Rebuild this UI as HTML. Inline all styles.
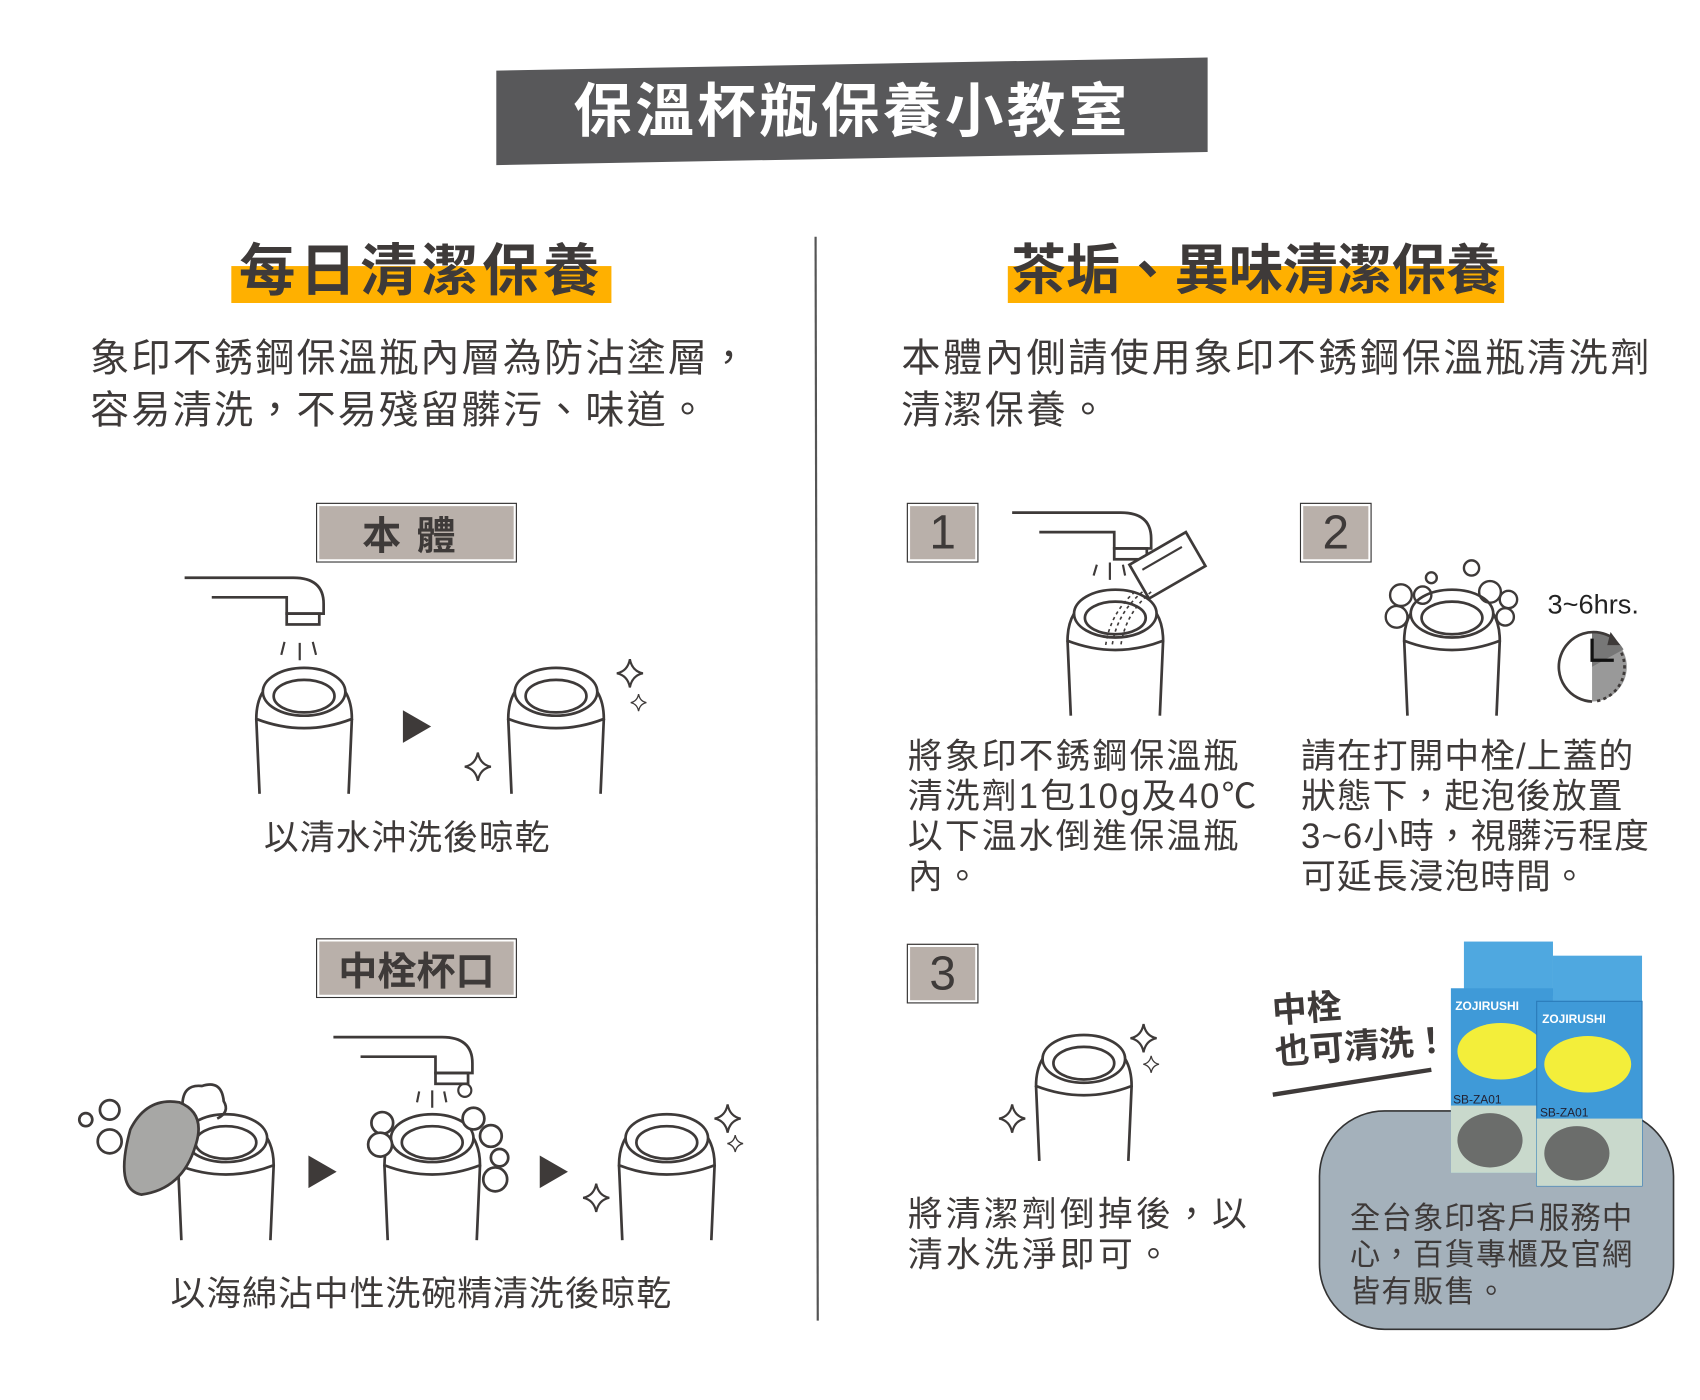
<!DOCTYPE html>
<html><head><meta charset="utf-8">
<style>
html,body{margin:0;padding:0;background:#fff;width:1700px;height:1400px;overflow:hidden}
#w{position:absolute;left:0;top:0;width:1560px;height:1285px;transform:scale(1.086);transform-origin:0 0;font-family:"Liberation Sans","Noto Sans CJK TC",sans-serif;color:#3e3a39}
.t{position:absolute;white-space:nowrap}
.lbl{position:absolute;background:#b9b0aa;border:1.5px solid #333;box-shadow:inset 0 0 0 2px #fff;display:flex;align-items:center;justify-content:center;color:#3e3a39}
.hl{position:absolute;background:#ffb000;height:34px}
.h{position:absolute;font-weight:bold;font-size:52px;color:#3e3a39;white-space:nowrap;line-height:1}
svg{position:absolute;left:0;top:0}
</style></head><body><div id="w">
<svg width="1560" height="1285" viewBox="0 0 1560 1285">
<defs>
<g id="cup" fill="none" stroke="#3e3a39" stroke-width="2.5">
<ellipse cx="0" cy="22" rx="38" ry="22"/>
<ellipse cx="0" cy="26" rx="28" ry="15"/>
<path d="M-38 22 Q-44 32 -44 47 Q0 64 44 47 Q44 32 38 22"/>
<path d="M-44 47 L-41 116 M44 47 L41 116"/>
</g>
<g id="fau" fill="none" stroke="#3e3a39" stroke-width="2.5">
<path d="M0 0 H100 Q128 0 128 24 V33 H94 V18 H25"/>
<rect x="94" y="33" width="30" height="10"/>
</g>
<g id="spk" fill="none" stroke="#3e3a39" stroke-width="2"><path d="M0 -13 Q2 -2 12 0 Q2 2 0 13 Q-2 2 -12 0 Q-2 -2 0 -13Z"/></g>
</defs>
<polygon points="457,65 1112,53 1112,140 457,152" fill="#58585a"/>
<line x1="751" y1="218" x2="753" y2="1216" stroke="#555" stroke-width="2"/>
<use href="#fau" x="170" y="532"/>
<path d="M262 591 L259 603 M276 592 V608 M288 591 L291 603" stroke="#3e3a39" stroke-width="2"/>
<use href="#cup" x="280" y="615"/>
<polygon points="371,654 371,684 397,669" fill="#3e3a39"/>
<use href="#cup" x="512" y="615"/>
<use href="#spk" x="580" y="620"/><use href="#spk" transform="translate(588,647) scale(0.6)"/><use href="#spk" x="440" y="706"/>
<use href="#cup" x="208" y="1026"/>
<g fill="none" stroke="#3e3a39" stroke-width="2.5">
<circle cx="79" cy="1031" r="6"/><circle cx="101" cy="1022" r="9"/><circle cx="101" cy="1051" r="11"/>
<path d="M168 1018 q0 -20 18 -18 q18 -6 20 14 q6 10 -6 16"/>
</g>
<path d="M120 1040 q15 -30 45 -25 q25 10 15 40 q-12 40 -50 45 q-25 -5 -10 -60z" fill="#a7a7a5" stroke="#3e3a39" stroke-width="2.5"/>
<polygon points="284,1064 284,1094 310,1079" fill="#3e3a39"/>
<use href="#fau" x="307" y="955"/>
<path d="M386 1005 L384 1015 M398 1004 V1020 M409 1005 L411 1015" stroke="#3e3a39" stroke-width="2"/>
<circle cx="428" cy="1004" r="6" fill="none" stroke="#3e3a39" stroke-width="2"/>
<use href="#cup" x="398" y="1026"/>
<g fill="#fff" stroke="#3e3a39" stroke-width="2.5">
<circle cx="352" cy="1034" r="10"/><circle cx="350" cy="1054" r="11"/><circle cx="436" cy="1030" r="10"/><circle cx="452" cy="1046" r="10"/><circle cx="456" cy="1086" r="11"/><circle cx="460" cy="1066" r="8"/>
</g>
<polygon points="497,1064 497,1094 523,1079" fill="#3e3a39"/>
<use href="#cup" x="614" y="1026"/>
<use href="#spk" x="670" y="1030"/><use href="#spk" transform="translate(677,1053) scale(0.6)"/><use href="#spk" x="549" y="1103"/>
<use href="#fau" x="932" y="472"/>
<path d="M1010 520 L1007 530 M1022 518 V534 M1034 520 L1036 530" stroke="#3e3a39" stroke-width="2"/>
<g transform="translate(1040,520) rotate(-30)"><rect x="0" y="0" width="60" height="36" fill="#fff" stroke="#3e3a39" stroke-width="2.5"/><line x1="8" y1="10" x2="50" y2="10" stroke="#3e3a39" stroke-width="2"/></g>
<use href="#cup" x="1027" y="543"/>
<path d="M1060 545 Q1036 565 1032 595 M1052 545 Q1028 565 1024 595 M1045 545 Q1022 565 1018 595" fill="none" stroke="#3e3a39" stroke-width="1.5" stroke-dasharray="3 3"/>
<use href="#cup" x="1337" y="543"/>
<g fill="none" stroke="#3e3a39" stroke-width="2.2">
<circle cx="1290" cy="548" r="10"/><circle cx="1286" cy="568" r="10"/><circle cx="1310" cy="548" r="8"/><circle cx="1318" cy="532" r="5"/><circle cx="1355" cy="523" r="7"/><circle cx="1372" cy="545" r="10"/><circle cx="1389" cy="552" r="8"/><circle cx="1386" cy="568" r="8"/>
</g>
<path d="M1466 582 A32 32 0 0 1 1466 646 Z" fill="#999"/>
<path d="M1466 582 A32 32 0 0 1 1495 598 L1466 614 Z" fill="#777"/>
<path d="M1466 646 A32 32 0 1 1 1486 588" fill="none" stroke="#3e3a39" stroke-width="2.5"/>
<path d="M1493 601 A32 32 0 0 1 1468 646" fill="none" stroke="#3e3a39" stroke-width="2.5" stroke-dasharray="3 3"/>
<polygon points="1483,582 1492,594 1480,594" fill="#3e3a39"/>
<path d="M1466 588 V608 H1486" fill="none" stroke="#111" stroke-width="3"/>
<use href="#cup" x="998" y="953"/>
<use href="#spk" x="1053" y="956"/><use href="#spk" transform="translate(1060,980) scale(0.6)"/><use href="#spk" x="932" y="1030"/>
<line x1="1172" y1="1008" x2="1318" y2="985" stroke="#3e3a39" stroke-width="4"/>
<rect x="1215" y="1023" width="326" height="201" rx="60" fill="#a4b1bb" stroke="#333" stroke-width="1.5"/>
<g>
<rect x="1348" y="867" width="82" height="50" fill="#4fa8e0"/>
<rect x="1336" y="910" width="94" height="170" fill="#3f9ad8"/>
<ellipse cx="1382" cy="968" rx="40" ry="26" fill="#f3ee3a"/>
<rect x="1336" y="1018" width="94" height="62" fill="#c9d9cc"/>
<ellipse cx="1372" cy="1050" rx="30" ry="25" fill="#6b6d6b"/>
<rect x="1430" y="880" width="82" height="50" fill="#4fa8e0"/>
<rect x="1415" y="922" width="97" height="170" fill="#3f9ad8" stroke="#2a7ab8"/>
<ellipse cx="1462" cy="980" rx="40" ry="26" fill="#f3ee3a"/>
<rect x="1415" y="1030" width="97" height="62" fill="#c9d9cc"/>
<ellipse cx="1452" cy="1062" rx="30" ry="25" fill="#6b6d6b"/>
<text x="1340" y="930" font-family="Liberation Sans" font-size="11" font-weight="bold" fill="#fff">ZOJIRUSHI</text>
<text x="1420" y="942" font-family="Liberation Sans" font-size="11" font-weight="bold" fill="#fff">ZOJIRUSHI</text>
<text x="1338" y="1016" font-family="Liberation Sans" font-size="11" fill="#223">SB-ZA01</text>
<text x="1418" y="1028" font-family="Liberation Sans" font-size="11" fill="#223">SB-ZA01</text>
</g>
</svg>

<div class="t" style="left:457px;width:655px;top:72px;text-align:center;color:#fff;font-weight:bold;font-size:54px;letter-spacing:3px;line-height:62px">保溫杯瓶保養小教室</div>

<div class="hl" style="left:213px;top:245px;width:350px"></div>
<div class="h" style="left:213px;width:350px;text-align:center;top:224px;letter-spacing:4px">每日清潔保養</div>
<div class="t" style="left:83px;top:306px;font-size:36px;line-height:48px;letter-spacing:2px">象印不銹鋼保溫瓶內層為防沾塗層，<br>容易清洗，不易殘留髒污、味道。</div>

<div class="lbl" style="left:291px;top:463px;width:183px;height:53px;font-size:36px;font-weight:bold;letter-spacing:14px">本體</div>
<div class="t" style="left:243px;top:751px;font-size:32px;line-height:40px;letter-spacing:1px">以清水沖洗後晾乾</div>
<div class="lbl" style="left:291px;top:864px;width:183px;height:53px;font-size:36px;font-weight:bold">中栓杯口</div>
<div class="t" style="left:157px;top:1171px;font-size:32px;line-height:40px;letter-spacing:1px">以海綿沾中性洗碗精清洗後晾乾</div>

<div class="hl" style="left:928px;top:245px;width:457px"></div>
<div class="h" style="left:928px;width:457px;text-align:center;top:224px;font-size:50px">茶垢、異味清潔保養</div>
<div class="t" style="left:830px;top:306px;font-size:36px;line-height:48px;letter-spacing:2.4px">本體內側請使用象印不銹鋼保溫瓶清洗劑<br>清潔保養。</div>

<div class="lbl" style="left:835px;top:463px;width:64px;height:53px;font-size:44px">1</div>
<div class="lbl" style="left:1197px;top:463px;width:64px;height:53px;font-size:44px">2</div>
<div class="lbl" style="left:835px;top:869px;width:64px;height:53px;font-size:44px">3</div>

<div class="t" style="left:836px;top:678px;font-size:32px;line-height:37px;letter-spacing:2px">將象印不銹鋼保溫瓶<br>清洗劑1包10g及40℃<br>以下温水倒進保温瓶<br>內。</div>
<div class="t" style="left:1198px;top:678px;font-size:32px;line-height:37px;letter-spacing:1px">請在打開中栓/上蓋的<br>狀態下，起泡後放置<br>3~6小時，視髒污程度<br>可延長浸泡時間。</div>
<div class="t" style="left:1425px;top:543px;font-size:25px;color:#222">3~6hrs.</div>

<div class="t" style="left:836px;top:1100px;font-size:32px;line-height:37px;letter-spacing:3px">將清潔劑倒掉後，以<br>清水洗淨即可。</div>
<div class="t" style="left:1170px;top:912px;font-size:32px;line-height:38px;font-weight:bold;transform:rotate(-4deg);transform-origin:0 0">中栓<br>也可清洗！</div>
<div class="t" style="left:1243px;top:1105px;font-size:28px;line-height:34px;letter-spacing:1px">全台象印客戶服務中<br>心，百貨專櫃及官網<br>皆有販售。</div>
</div></body></html>
